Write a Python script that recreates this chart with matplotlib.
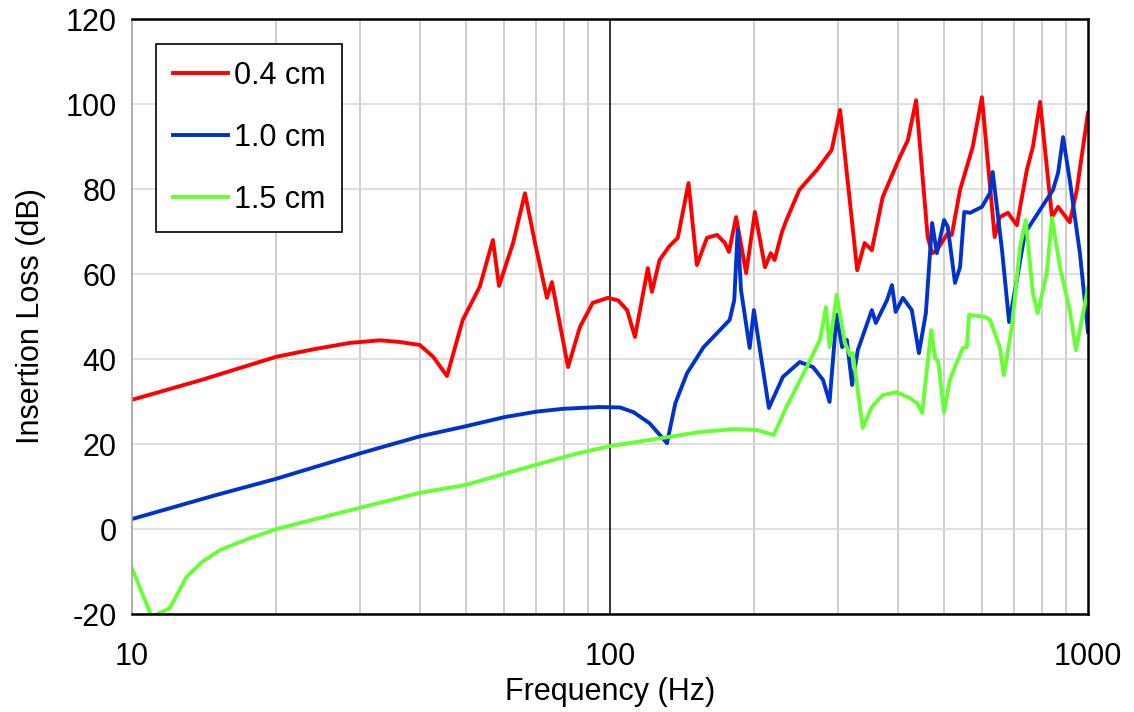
import matplotlib
matplotlib.use('Agg')
import matplotlib.pyplot as plt
from matplotlib.ticker import FixedLocator, NullFormatter

plt.rcParams['font.family'] = ['Liberation Sans', 'DejaVu Sans']
plt.rcParams['axes.unicode_minus'] = False

# 0.4 cm
f_red = [10, 13.9, 20, 24, 28.6, 33, 36.4, 40, 42.7, 45.6, 49.2, 53.4, 56.9, 58.6, 62.7, 66.4, 69.7,
         73.8, 75.6, 81.7, 86.5, 92, 99, 104, 108.6, 112.8, 120, 122.4, 127, 133, 138.6, 146, 152, 159.5,
         167.5, 174, 177.4, 183.6, 192.7, 201, 211, 217, 221, 229, 234, 249, 271, 291, 303, 329,
         341, 353, 372, 404, 420, 437, 462, 472, 483, 509, 519, 540, 574, 600, 638, 654, 680,
         710, 745, 767, 794, 841, 866, 916, 948, 1000]
il_red = [30.4, 35, 40.5, 42.3, 43.8, 44.4, 44, 43.3, 40.5, 36, 49.2, 57, 68, 57.2, 67.3, 79, 67.3,
          54.4, 58.1, 38.1, 47.5, 53.2, 54.4, 53.8, 51.5, 45.2, 61.4, 55.8, 63.3, 66.5, 68.5, 81.4, 62.1, 68.5,
          69.2, 67.3, 65.2, 73.4, 60.2, 74.6, 61.6, 64.9, 63.3, 69.9, 72.7, 79.8, 84.5, 89.2, 98.6, 60.9,
          67.3, 65.6, 78.1, 87.5, 91.5, 100.9, 68.7, 64.9, 65.6, 69.6, 69.2, 79.8, 89.9, 101.6, 68.7, 73.4, 74.4,
          71.5, 84.5, 89.9, 100.5, 73.4, 75.8, 72.2, 79.8, 97.9]

# 1.0 cm
f_blue = [10, 15, 20, 30, 40, 50, 60, 70, 80, 95, 105, 112, 121, 131.6, 137, 145, 157, 178, 182,
          185, 188, 196, 200, 215, 230, 249.5, 266, 279, 288, 298, 306, 313, 321, 330, 353, 360,
          380, 389, 396, 410, 428, 443, 458, 472, 483, 500, 509, 527, 540, 551, 567, 600, 624,
          632, 661, 684, 710, 738, 794, 845, 866, 887, 916, 962, 1000]
il_blue = [2.35, 8.0, 11.8, 17.8, 21.8, 24.2, 26.3, 27.6, 28.3, 28.7, 28.6, 27.5, 24.9, 20.2, 29.6,
           36.7, 42.8, 49.2, 53.9, 70.4, 56.2, 42.6, 51.5, 28.5, 35.8, 39.3, 38.1, 35.1, 29.9, 50.4,
           42.8, 44.5, 33.9, 42.1, 51.5, 48.5, 53.9, 57.4, 51.1, 54.4, 51.5, 41.4, 50.8, 72, 64.9,
           72.7, 71.1, 57.9, 61.6, 74.6, 74.4, 75.8, 79.1, 84, 65.6, 48.7, 58.6, 69.6, 75.1, 79.8,
           83.8, 92.2, 82.1, 64.9, 46.4]

# 1.5 cm
f_green = [10, 11.0, 12.0, 13.0, 14.0, 15.3, 17.9, 20.1, 24.7, 31.5, 40, 50, 71, 85, 100, 131.6,
           154, 181, 203, 220, 234, 258, 275, 283, 288, 298, 310, 318, 322, 338, 353, 372, 398,
           424, 439, 450, 470, 479, 486, 500, 514, 547, 558, 564, 609, 624, 654, 667, 693, 721,
           741, 767, 785, 820, 841, 874, 916, 944, 1000]
il_green = [-9.2, -20.7, -18.6, -11.3, -7.8, -4.9, -1.9, 0, 2.6, 5.6, 8.5, 10.4, 15.3, 17.7, 19.5,
            21.6, 22.8, 23.5, 23.3, 22.1, 28.7, 38.1, 44.5, 52.2, 42.8, 55.1, 43.8, 40.9, 41.4,
            23.8, 28.7, 31.5, 32.2, 30.8, 29.6, 27.3, 46.8, 40.2, 39.5, 27.5, 35.1, 42.6, 42.8,
            50.4, 49.9, 49.2, 42.8, 36.2, 47.5, 66.4, 72.7, 55.5, 50.8, 60.2, 73.2, 61.6, 51.5,
            42.1, 56.7]

fig = plt.figure(figsize=(11.34, 7.12), dpi=100)
ax = fig.add_axes([0.1164, 0.1376, 0.843, 0.8357])

ax.plot(f_red, il_red, color='#ff0000', linewidth=2.8, label='0.4 cm')
ax.plot(f_blue, il_blue, color='#0033cc', linewidth=2.8, label='1.0 cm')
ax.plot(f_green, il_green, color='#66ff33', linewidth=2.8, label='1.5 cm')

ax.set_xscale('log')
ax.set_xlim(10, 1000)
ax.set_ylim(-20, 120)
ax.set_yticks(range(-20, 121, 20))
ax.xaxis.set_major_locator(FixedLocator([10, 100, 1000]))
ax.set_xticklabels(['10', '100', '1000'])
minor = [m * d for d in (10, 100) for m in range(2, 10)]
ax.xaxis.set_minor_locator(FixedLocator(minor))
ax.xaxis.set_minor_formatter(NullFormatter())

ax.grid(True, axis='y', color='#d9d9d9', linewidth=1.2)
ax.grid(True, axis='x', which='minor', color='#c0c0c0', linewidth=1.1)
ax.axvline(100, color='black', linewidth=1.1, zorder=1.5)
ax.set_axisbelow(True)

ax.tick_params(axis='both', which='both', length=0, labelsize=22)
ax.tick_params(axis='y', pad=11)
ax.tick_params(axis='x', pad=20)

for s in ['top', 'right', 'bottom']:
    ax.spines[s].set_color('black')
    ax.spines[s].set_linewidth(1.8)
ax.spines['left'].set_color('#a0a0a0')
ax.spines['left'].set_linewidth(1.2)

ax.set_xlabel('Frequency (Hz)', fontsize=22, labelpad=4)
ax.set_ylabel('Insertion Loss (dB)', fontsize=22, labelpad=14)

leg = ax.legend(loc='upper left', bbox_to_anchor=(0.025, 0.958), borderaxespad=0,
                fontsize=22, fancybox=False, framealpha=1, edgecolor='black',
                handlelength=1.8, handletextpad=0.2, labelspacing=1.05,
                borderpad=0.55)
leg.get_frame().set_linewidth(1.2)

fig.savefig('out.png', dpi=100)
